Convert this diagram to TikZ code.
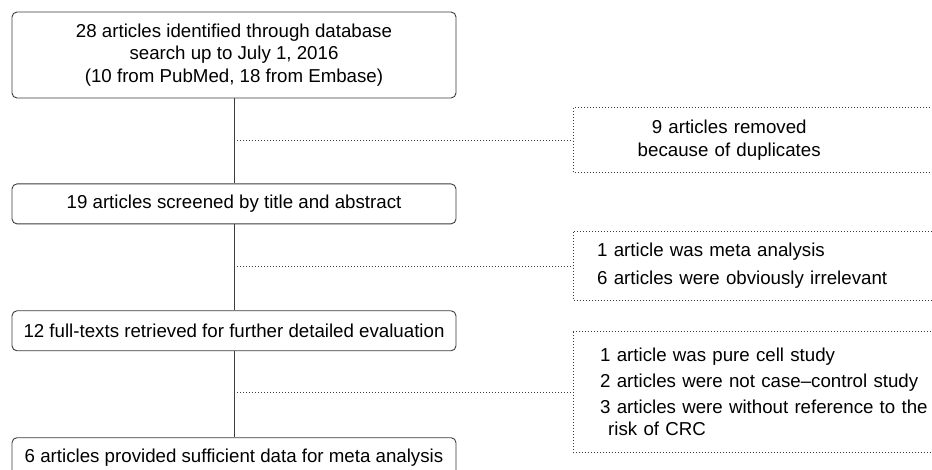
\documentclass[tikz,border=0pt]{standalone}
\usepackage{fontspec}
\setmainfont{Liberation Sans}
\usepackage{xcolor}
\usetikzlibrary{positioning}
\definecolor{lineGray}{HTML}{3C3C3C}

\begin{document}
\begin{tikzpicture}[
  x=1pt, y=-1pt,
  font=\fontsize{18.7}{22.4}\selectfont,
  box/.style={draw=lineGray, rounded corners=5pt, line width=0.9pt, minimum width=444pt, align=center, inner sep=3pt},
  sidetext/.style={inner sep=0pt, anchor=west},
  stepline/.style={draw=lineGray, line width=0.9pt},
  dotline/.style={draw=lineGray, line width=0.9pt, dash pattern=on 0.9pt off 2.1pt},
]
\path[use as bounding box, clip] (0,0) rectangle (932,470);
\coordinate (far) at (945,0);

\node[box, minimum height=86pt] (found) at (234,55) {28 articles identified through database\\search up to July 1, 2016\\(10 from PubMed, 18 from Embase)};
\node[box, minimum height=40pt, below=85pt of found] (screen) {19 articles screened by title and abstract};
\node[box, minimum height=40pt, below=86pt of screen] (fulltext) {12 full-texts retrieved for further detailed evaluation};
\node[box, minimum height=40pt, below=86pt of fulltext] (incl) {6 articles provided sufficient data for meta analysis};

\node[sidetext, text width=312pt, align=center, minimum height=64pt] (dup) at (573,140) {9 articles removed\\because of duplicates};
\node[sidetext, text width=330pt, align=left, minimum height=68pt] (excl1) at (597,266) {1 article was meta analysis\\[5.5pt]6 articles were obviously irrelevant};
\node[sidetext, text width=330pt, align=left, minimum height=120pt] (excl2) at (600,392) {1 article was pure cell study\\[3.6pt]2 articles were not case--control study\\[3.6pt]3 articles were without reference to the\\\hspace*{8pt}risk of CRC};

\draw[dotline] (dup.north west) rectangle (dup.south east -| far);
\draw[dotline] ([xshift=-24pt]excl1.north west) rectangle (excl1.south east -| far);
\draw[dotline] ([xshift=-27pt]excl2.north west) rectangle (excl2.south east -| far);

\draw[stepline] (found) -- (screen);
\draw[stepline] (screen) -- (fulltext);
\draw[stepline] (fulltext) -- (incl);
\draw[dotline] (found.south |- dup.west) -- (dup.west);
\draw[dotline] (found.south |- excl1.west) -- ([xshift=-24pt]excl1.west);
\draw[dotline] (found.south |- excl2.west) -- ([xshift=-27pt]excl2.west);
\end{tikzpicture}
\end{document}
